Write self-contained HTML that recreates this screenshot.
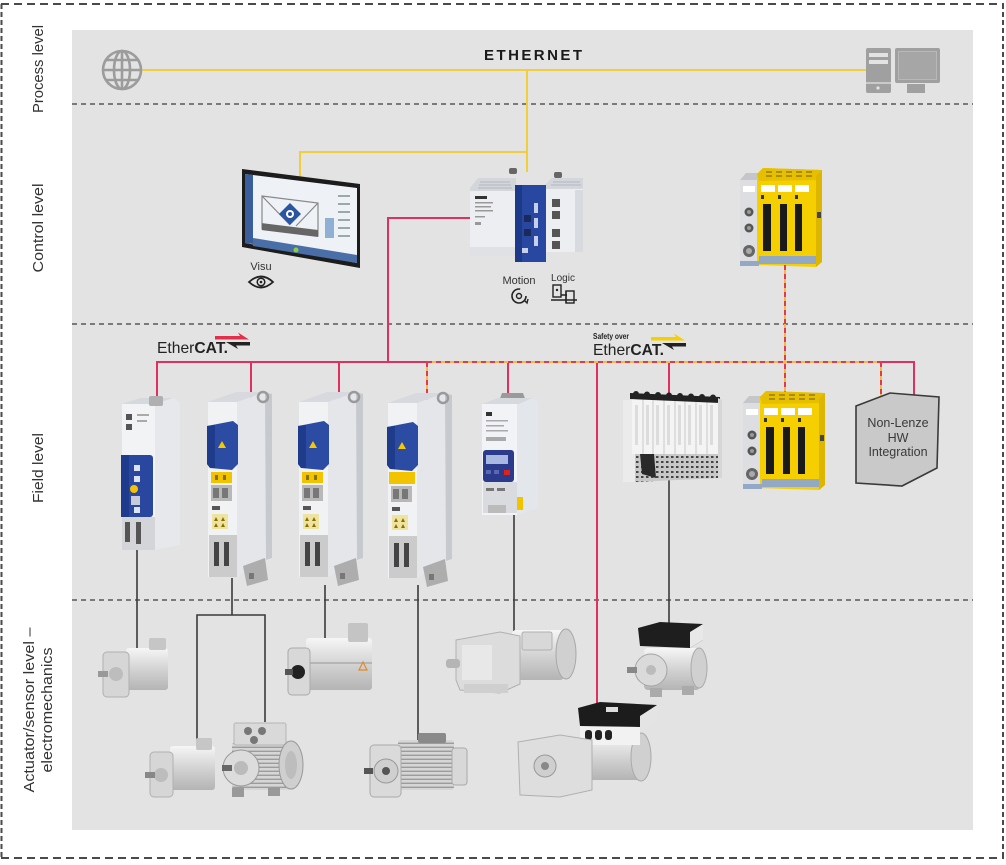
<!DOCTYPE html>
<html><head><meta charset="utf-8"><style>
html,body{margin:0;padding:0;background:#fff;}
svg{display:block;}
text{font-family:"Liberation Sans",sans-serif;}
</style></head><body>
<svg width="1006" height="865" viewBox="0 0 1006 865" xmlns="http://www.w3.org/2000/svg">
<defs>
 <linearGradient id="silv" x1="0" y1="0" x2="0" y2="1">
  <stop offset="0" stop-color="#f6f6f6"/><stop offset="0.55" stop-color="#d0d0d0"/><stop offset="1" stop-color="#b4b4b4"/>
 </linearGradient>
 <pattern id="fins" width="4" height="4" patternUnits="userSpaceOnUse"><rect width="4" height="4" fill="#d6d6d6"/><rect y="2.6" width="4" height="1.4" fill="#9c9c9c"/></pattern>
 <pattern id="term" width="5" height="5" patternUnits="userSpaceOnUse"><rect width="5" height="5" fill="#c8c8c8"/><rect x="1" y="1" width="2.5" height="2" fill="#444"/></pattern>
 <g id="drv">
  <polygon points="32,12 60,2 67,4 67,168 32,187" fill="#e4e6ea"/>
  <polygon points="60,2 67,4 67,168 61,170" fill="#c6c9ce"/>
  <rect x="3" y="12" width="29" height="175" fill="#f1f2f4"/>
  <polygon points="3,12 31,2 60,2 32,12" fill="#d7d9de"/>
  <circle cx="58" cy="7" r="5" fill="none" stroke="#9a9a9a" stroke-width="2.5"/>
  <path d="M2,36 L28,31 L33,35 L33,74 L27,80 L5,78 L2,74 Z" fill="#2c4ba3"/>
  <path d="M2,36 L10,35 L10,78 L5,78 L2,74 Z" fill="#1f3b8c"/>
  <polygon points="13,58 17,51 21,58" fill="#f5c800"/>
  <rect x="6" y="82" width="21" height="11" fill="#f2c400"/>
  <rect x="10" y="85" width="3" height="5" fill="#8a7000"/><rect x="18" y="85" width="3" height="5" fill="#8a7000"/>
  <rect x="6" y="95" width="21" height="16" fill="#b8b8b8"/>
  <rect x="8" y="98" width="6" height="10" fill="#777"/><rect x="17" y="98" width="6" height="10" fill="#777"/>
  <rect x="7" y="116" width="8" height="4" fill="#555"/>
  <rect x="7" y="124" width="16" height="15" fill="#eee3a0"/>
  <polygon points="9,131 11,127 13,131" fill="#8a7000"/><polygon points="16,131 18,127 20,131" fill="#8a7000"/>
  <polygon points="9,137 11,133 13,137" fill="#8a7000"/><polygon points="16,137 18,133 20,137" fill="#8a7000"/>
  <rect x="4" y="145" width="28" height="42" fill="#cbcbcb"/>
  <rect x="9" y="152" width="5" height="24" fill="#444"/><rect x="19" y="152" width="5" height="24" fill="#444"/>
  <polygon points="38,176 60,168 63,190 42,196" fill="#adadad"/>
  <rect x="44" y="183" width="5" height="6" fill="#777"/>
 </g>
 <g id="sc">
  <rect x="0" y="12" width="19" height="86" fill="#dcdee1"/>
  <polygon points="0,12 6,5 19,5 19,12" fill="#c4c6ca"/>
  <rect x="3" y="18" width="12" height="6" fill="#fff"/>
  <circle cx="9" cy="44" r="4.5" fill="#555"/><circle cx="9" cy="44" r="2" fill="#999"/>
  <circle cx="9" cy="60" r="4.5" fill="#555"/><circle cx="9" cy="60" r="2" fill="#999"/>
  <circle cx="9" cy="83" r="6" fill="#666"/><circle cx="9" cy="83" r="3" fill="#aaa"/>
  <polygon points="17,6 23,0 82,2 82,94 76,99 17,97" fill="#f5cf00"/>
  <polygon points="17,6 23,0 82,2 80,12 19,13" fill="#e6bf00"/>
  <path d="M26,4 h6 M36,4 h6 M46,4 h6 M56,4 h6 M66,4 h6 M26,8 h6 M36,8 h6 M46,8 h6 M56,8 h6 M66,8 h6" stroke="#8a6d00" stroke-width="1.2"/>
  <rect x="21" y="17" width="14" height="7" fill="#fff"/><rect x="38" y="17" width="14" height="7" fill="#fff"/><rect x="55" y="17" width="14" height="7" fill="#fff"/>
  <rect x="21" y="27" width="3" height="4" fill="#333"/><rect x="38" y="27" width="3" height="4" fill="#333"/><rect x="55" y="27" width="3" height="4" fill="#333"/>
  <rect x="23" y="36" width="8" height="47" fill="#1a1a1a"/>
  <rect x="40" y="36" width="7" height="47" fill="#1a1a1a"/>
  <rect x="55" y="36" width="7" height="47" fill="#1a1a1a"/>
  <polygon points="76,8 82,2 82,94 76,99" fill="#dcb600"/>
  <rect x="77" y="44" width="4" height="6" fill="#444"/>
  <rect x="19" y="88" width="57" height="8" fill="#93a8c4"/>
  <rect x="0" y="93" width="19" height="5" fill="#93a8c4"/>
 </g>
</defs>

<rect width="1006" height="865" fill="#fff"/>
<!-- outer dashed border -->
<g stroke="#4a4a4a" stroke-width="2">
 <line x1="1" y1="4" x2="1004" y2="4" stroke-dasharray="8 5"/>
 <line x1="1" y1="858" x2="1004" y2="858" stroke-dasharray="8 5"/>
 <line x1="1.5" y1="4" x2="1.5" y2="858" stroke-dasharray="5 3"/>
 <line x1="1003" y1="4" x2="1003" y2="858" stroke-dasharray="5 3"/>
</g>

<!-- panel -->
<rect x="72" y="30" width="901" height="800" fill="#e3e3e3"/>
<g stroke="#3c3c3c" stroke-width="1.2" stroke-dasharray="5 4">
 <line x1="72" y1="104" x2="973" y2="104"/>
 <line x1="72" y1="324" x2="973" y2="324"/>
 <line x1="72" y1="600" x2="973" y2="600"/>
</g>

<!-- level labels -->
<g fill="#333" font-size="15">
 <text transform="translate(43,69) rotate(-90)" text-anchor="middle" textLength="88" lengthAdjust="spacingAndGlyphs">Process level</text>
 <text transform="translate(43,228) rotate(-90)" text-anchor="middle" textLength="89" lengthAdjust="spacingAndGlyphs">Control level</text>
 <text transform="translate(43,468) rotate(-90)" text-anchor="middle" textLength="70" lengthAdjust="spacingAndGlyphs">Field level</text>
 <text transform="translate(34,710) rotate(-90)" text-anchor="middle" textLength="165" lengthAdjust="spacingAndGlyphs">Actuator/sensor level –</text>
 <text transform="translate(52,710) rotate(-90)" text-anchor="middle" textLength="125" lengthAdjust="spacingAndGlyphs">electromechanics</text>
</g>

<!-- Ethernet -->
<line x1="142" y1="70" x2="866" y2="70" stroke="#f2cf3a" stroke-width="2"/>
<text x="533" y="60" text-anchor="middle" font-size="15" font-weight="bold" fill="#1a1a1a" textLength="98" lengthAdjust="spacing">ETHERNET</text>
<g stroke="#9c9c9c" stroke-width="2.6" fill="none">
 <circle cx="122" cy="70" r="19"/>
 <ellipse cx="122" cy="70" rx="8" ry="19"/>
 <line x1="103" y1="70" x2="141" y2="70"/>
 <line x1="122" y1="51" x2="122" y2="89"/>
 <path d="M106,60 H138 M106,80 H138"/>
</g>
<g>
 <rect x="866" y="48" width="25" height="45" rx="2" fill="#a0a0a0"/>
 <rect x="869" y="53" width="19" height="4" fill="#e3e3e3"/>
 <rect x="869" y="60" width="19" height="4" fill="#e3e3e3"/>
 <line x1="866" y1="83" x2="891" y2="83" stroke="#e3e3e3" stroke-width="1.2"/>
 <circle cx="878" cy="88" r="1.6" fill="#e3e3e3"/>
 <rect x="895" y="48" width="45" height="35" rx="2" fill="#a0a0a0"/>
 <rect x="898.5" y="51.5" width="38" height="28" fill="#a6a6a6" stroke="#b8b8b8"/>
 <rect x="907" y="84" width="18" height="9" fill="#a0a0a0"/>
</g>

<!-- yellow links control -->
<path d="M527,70 V172 M527,152 H300 V177" stroke="#f2cf3a" stroke-width="2" fill="none"/>

<!-- tablet -->
<polygon points="242,169 360,184 360,268 242,247" fill="#1c1c1c"/>
<polygon points="245,174 357,188 357,263 245,243" fill="#eef1f5"/>
<polygon points="245,174 253,175 253,244 245,243" fill="#3a5d9c"/>
<polygon points="253,238 357,255 357,263 253,246" fill="#4a6fa8"/>
<g stroke="#888" stroke-width="1.2" fill="none">
 <polygon points="262,196 318,203 318,236 262,229"/>
 <line x1="262" y1="196" x2="290" y2="225"/><line x1="318" y1="203" x2="296" y2="226"/>
</g>
<rect x="262" y="224" width="56" height="7" fill="#666" transform="skewY(7) translate(0,-33)"/>
<polygon points="290,203 301,214 290,225 279,214" fill="#2a55a0"/>
<circle cx="290" cy="214" r="4" fill="#fff"/><circle cx="290" cy="214" r="2" fill="#2a55a0"/>
<rect x="325" y="218" width="9" height="20" fill="#8fb0d2"/>
<g fill="#9aa" ><rect x="338" y="195" width="12" height="2"/><rect x="338" y="203" width="12" height="2"/><rect x="338" y="211" width="12" height="2"/><rect x="338" y="219" width="12" height="2"/><rect x="338" y="227" width="12" height="2"/><rect x="338" y="235" width="12" height="2"/></g>
<circle cx="296" cy="250" r="2.5" fill="#8ccf3a"/>
<text x="261" y="270" text-anchor="middle" font-size="11" fill="#333">Visu</text>
<path d="M249,282 Q261,271 273,282 Q261,293 249,282 Z" stroke="#222" stroke-width="1.8" fill="none"/>
<circle cx="261" cy="282" r="3.8" stroke="#222" stroke-width="1.5" fill="none"/><circle cx="261" cy="282" r="1.3" fill="#222"/>

<!-- controller -->
<rect x="509" y="168" width="8" height="6" rx="2" fill="#666"/>
<rect x="554" y="172" width="8" height="6" rx="2" fill="#666"/>
<polygon points="470,188 478,178 516,178 516,192 470,192" fill="#d3d6db"/>
<path d="M480,182 h30 M479,185 h32 M478,188 h34" stroke="#aab" stroke-width="0.8"/>
<rect x="470" y="191" width="46" height="56" fill="#eceef1"/>
<rect x="470" y="247" width="46" height="9" fill="#dfe1e5"/>
<rect x="475" y="196" width="12" height="3" fill="#333"/>
<g fill="#999"><rect x="475" y="202" width="18" height="1.5"/><rect x="475" y="206" width="16" height="1.5"/><rect x="475" y="210" width="18" height="1.5"/><rect x="475" y="216" width="10" height="1.5"/><rect x="475" y="222" width="6" height="3"/></g>
<polygon points="545,185 552,178 583,178 583,190 545,190" fill="#d3d6db"/>
<path d="M553,182 h27 M551,185 h30" stroke="#aab" stroke-width="0.8"/>
<rect x="545" y="189" width="38" height="63" fill="#eceef1"/>
<rect x="575" y="190" width="8" height="62" fill="#d7dade"/>
<g fill="#555"><rect x="552" y="199" width="8" height="8"/><rect x="552" y="211" width="8" height="8"/><rect x="552" y="229" width="8" height="8"/><rect x="552" y="241" width="8" height="8"/></g>
<rect x="515" y="185" width="31" height="77" fill="#2747a0"/>
<rect x="515" y="185" width="7" height="77" fill="#1d3a8a"/>
<g fill="#1a2a5a"><rect x="524" y="215" width="7" height="7"/><rect x="524" y="229" width="7" height="7"/></g>
<g fill="#c8cfe8"><rect x="534" y="203" width="4" height="10"/><rect x="534" y="218" width="4" height="10"/><rect x="534" y="236" width="4" height="10"/><rect x="522" y="248" width="6" height="5"/></g>
<text x="519" y="284" text-anchor="middle" font-size="11" fill="#333">Motion</text>
<circle cx="519" cy="296" r="7" stroke="#222" stroke-width="1.6" fill="none" stroke-dasharray="34 10"/>
<circle cx="519" cy="296" r="2.5" stroke="#222" stroke-width="1.4" fill="none"/>
<path d="M524,300 l3,3 l1,-4" stroke="#222" stroke-width="1.4" fill="none"/>
<text x="563" y="281" text-anchor="middle" font-size="10" fill="#333">Logic</text>
<g stroke="#222" stroke-width="1.4" fill="none">
 <rect x="553" y="285" width="8" height="12"/>
 <path d="M561,295 H567 M551,300 H577 M566,291 v12"/>
 <rect x="566" y="291" width="8" height="12"/>
</g>
<circle cx="557" cy="290" r="1.2" fill="#222"/>

<!-- safety controller control level -->
<use href="#sc" transform="translate(740,168)"/>

<!-- red ethercat lines -->
<g stroke="#e03060" stroke-width="2" fill="none">
 <path d="M470,218 H388 V362"/>
 <path d="M157,402 V362 H427"/>
 <path d="M251,362 V398 M339,362 V398"/>
 <path d="M508,362 V395 M597,362 V708 M669,362 V397"/>
 <path d="M881,362 H914 V396"/>
</g>
<!-- safety dashed lines -->
<g fill="none" stroke-width="2">
 <path d="M427,362 H881 M427,362 V404 M785,265 V395 M881,362 V398" stroke="#f4b942"/>
 <path d="M427,362 H881 M427,362 V404 M785,265 V395 M881,362 V398" stroke="#e03a50" stroke-dasharray="5 4"/>
</g>

<!-- EtherCAT logos -->
<g>
 <text x="157" y="353" font-size="16" fill="#222" textLength="71" lengthAdjust="spacingAndGlyphs">Ether<tspan font-weight="bold">CAT.</tspan></text>
 <polygon points="215,336 240,336 238,332.5 249,339.5 215,339.5" fill="#e0304a"/>
 <polygon points="250,342 250,345.5 236,345.5 238,349 226,342" fill="#222"/>
</g>
<g>
 <text x="593" y="339" font-size="8" font-weight="bold" fill="#222" textLength="36" lengthAdjust="spacingAndGlyphs">Safety over</text>
 <text x="593" y="355" font-size="16" fill="#222" textLength="71" lengthAdjust="spacingAndGlyphs">Ether<tspan font-weight="bold">CAT.</tspan></text>
 <polygon points="651,337 676,337 674,333.5 685,340.5 651,340.5" fill="#f5cf00"/>
 <polygon points="686,343 686,346.5 672,346.5 674,350 662,343" fill="#222"/>
</g>

<!-- black motor cables -->
<g stroke="#3a3a3a" stroke-width="1.6" fill="none">
 <path d="M137,550 V650"/>
 <path d="M232,578 V615 M197,740 V615 H265 V722"/>
 <path d="M325,585 V650"/>
 <path d="M418,585 V740"/>
 <path d="M514,513 V632"/>
 <path d="M669,480 V625"/>
</g>

<!-- Drive 1 -->
<g>
 <polygon points="155,404 173,398 180,402 180,545 155,550" fill="#e6e8ec"/>
 <rect x="122" y="404" width="33" height="146" fill="#f2f3f5"/>
 <polygon points="122,404 140,398 173,398 155,404" fill="#d5d8dc"/>
 <rect x="149" y="396" width="14" height="10" rx="2" fill="#b0b0b0"/>
 <rect x="126" y="414" width="6" height="6" fill="#555"/><rect x="126" y="424" width="6" height="6" fill="#555"/>
 <rect x="137" y="414" width="12" height="2" fill="#aaa"/><rect x="137" y="420" width="10" height="2" fill="#aaa"/>
 <rect x="121" y="455" width="32" height="62" rx="3" fill="#2a47a0"/>
 <rect x="121" y="455" width="8" height="62" fill="#1e3a8c"/>
 <rect x="134" y="465" width="6" height="6" fill="#dde2f0"/><rect x="134" y="476" width="6" height="6" fill="#dde2f0"/>
 <circle cx="134" cy="489" r="4" fill="#f2c400"/>
 <rect x="131" y="496" width="9" height="9" fill="#c8ccd8"/><rect x="134" y="507" width="6" height="6" fill="#dde2f0"/>
 <rect x="122" y="517" width="33" height="33" fill="#d3d5d8"/>
 <rect x="125" y="522" width="5" height="20" fill="#555"/><rect x="136" y="522" width="5" height="22" fill="#555"/>
</g>
<!-- Drives 2-4 -->
<use href="#drv" transform="translate(205,390)"/>
<use href="#drv" transform="translate(296,390)"/>
<use href="#drv" transform="translate(385,391)"/>
<rect x="389" y="472" width="26" height="12" fill="#f2c400"/>

<!-- Drive 5 -->
<g>
 <polygon points="498,404 502,393 523,393 527,404" fill="#9a9a9a"/>
 <polygon points="517,404 533,398 538,402 538,508 517,515" fill="#e3e6eb"/>
 <rect x="482" y="404" width="35" height="111" fill="#f1f3f6"/>
 <polygon points="482,404 498,398 533,398 517,404" fill="#d6d9de"/>
 <rect x="486" y="412" width="6" height="4" fill="#333"/>
 <g fill="#aaa"><rect x="486" y="420" width="22" height="1.5"/><rect x="486" y="425" width="18" height="1.5"/><rect x="486" y="430" width="22" height="1.5"/><rect x="486" y="437" width="20" height="4"/></g>
 <rect x="483" y="450" width="31" height="32" rx="3" fill="#2c3a8c"/>
 <rect x="486" y="455" width="22" height="9" fill="#a9b8e0"/>
 <g fill="#5a68b0"><rect x="486" y="470" width="5" height="4"/><rect x="494" y="470" width="5" height="4"/></g>
 <rect x="504" y="470" width="6" height="5" fill="#d22"/>
 <rect x="483" y="482" width="34" height="31" fill="#d9dbde"/>
 <rect x="486" y="488" width="8" height="3" fill="#777"/><rect x="497" y="488" width="8" height="3" fill="#777"/>
 <rect x="517" y="497" width="6" height="13" fill="#f2c400"/>
 <rect x="488" y="505" width="18" height="8" fill="#bbb"/>
</g>

<!-- I/O module -->
<g>
 <rect x="623" y="400" width="12" height="82" fill="#ebebeb"/>
 <rect x="632" y="398" width="86" height="56" fill="#f4f4f4"/>
 <g stroke="#c9c9c9" stroke-width="1"><path d="M643,398 V454 M653,398 V454 M664,398 V454 M675,398 V454 M685,398 V454 M696,398 V454 M707,398 V454"/></g>
 <g fill="#dcdcdc"><rect x="635" y="405" width="3" height="40"/><rect x="646" y="405" width="3" height="40"/><rect x="656" y="405" width="3" height="40"/><rect x="667" y="405" width="3" height="40"/><rect x="678" y="405" width="3" height="40"/><rect x="688" y="405" width="3" height="40"/><rect x="699" y="405" width="3" height="40"/><rect x="710" y="405" width="3" height="40"/></g>
 <polygon points="630,393 720,397 720,403 630,399" fill="#222"/>
 <g fill="#222"><circle cx="636" cy="394" r="3"/><circle cx="647" cy="394.5" r="3"/><circle cx="658" cy="395" r="3"/><circle cx="669" cy="395.5" r="3"/><circle cx="680" cy="396" r="3"/><circle cx="691" cy="396.5" r="3"/><circle cx="702" cy="397" r="3"/><circle cx="713" cy="397.5" r="3"/></g>
 <polygon points="635,454 720,454 720,478 635,482" fill="url(#term)"/>
 <polygon points="640,454 654,454 656,478 642,474" fill="#2a2a2a"/>
 <polygon points="718,398 722,400 722,478 718,478" fill="#d6d6d6"/>
</g>

<!-- safety controller field level -->
<use href="#sc" transform="translate(743,391)"/>

<!-- Non-Lenze -->
<polygon points="856,406 890,393 939,397 937,468 902,486 856,483" fill="#c9c9c9" stroke="#3a3a3a" stroke-width="1.6"/>
<g font-size="12.5" fill="#3a3a3a" text-anchor="middle">
 <text x="898" y="427">Non-Lenze</text>
 <text x="898" y="442">HW</text>
 <text x="898" y="456">Integration</text>
</g>

<!-- Motors -->
<!-- motor 1 servo -->
<g>
 <rect x="126" y="648" width="42" height="42" rx="3" fill="url(#silv)"/>
 <rect x="149" y="638" width="17" height="12" rx="2" fill="#c6c6c6"/>
 <rect x="103" y="652" width="26" height="45" rx="4" fill="#d6d6d6" stroke="#b0b0b0"/>
 <circle cx="116" cy="674" r="7" fill="#bdbdbd"/>
 <rect x="98" y="671" width="10" height="6" fill="#999"/>
</g>
<!-- motor 2 large servo -->
<g>
 <rect x="306" y="638" width="66" height="52" rx="3" fill="url(#silv)"/>
 <rect x="306" y="662" width="66" height="2" fill="#b5b5b5"/>
 <rect x="348" y="623" width="20" height="19" rx="2" fill="#c4c4c4"/>
 <rect x="288" y="648" width="22" height="47" rx="4" fill="#d8d8d8" stroke="#aaa"/>
 <circle cx="298" cy="672" r="7" fill="#222"/>
 <rect x="285" y="669" width="8" height="6" fill="#555"/>
 <polygon points="359,670 363,662 367,670" fill="none" stroke="#e08a2a" stroke-width="1.2"/>
</g>
<!-- motor 3 small servo bottom -->
<g>
 <rect x="170" y="746" width="45" height="44" rx="3" fill="url(#silv)"/>
 <rect x="196" y="738" width="16" height="12" rx="2" fill="#c6c6c6"/>
 <rect x="150" y="752" width="23" height="45" rx="4" fill="#d6d6d6" stroke="#b0b0b0"/>
 <circle cx="161" cy="775" r="7" fill="#bdbdbd"/>
 <rect x="145" y="772" width="10" height="6" fill="#888"/>
</g>
<!-- AC motor -->
<g>
 <rect x="232" y="742" width="58" height="48" rx="4" fill="url(#fins)"/>
 <rect x="234" y="723" width="52" height="22" rx="2" fill="#d9d9d9" stroke="#b5b5b5"/>
 <circle cx="248" cy="731" r="4" fill="#777"/><circle cx="262" cy="731" r="4" fill="#777"/>
 <circle cx="254" cy="740" r="4" fill="#777"/>
 <ellipse cx="291" cy="765" rx="12" ry="24" fill="#cfcfcf" stroke="#999"/>
 <ellipse cx="291" cy="765" rx="6" ry="14" fill="#bdbdbd"/>
 <circle cx="241" cy="768" r="18" fill="#dcdcdc" stroke="#999"/>
 <circle cx="241" cy="768" r="7" fill="#bbb"/>
 <rect x="222" y="765" width="10" height="6" fill="#666"/>
 <rect x="232" y="788" width="12" height="9" fill="#999"/><rect x="268" y="788" width="12" height="8" fill="#999"/>
</g>
<!-- big servo -->
<g>
 <rect x="398" y="740" width="56" height="50" rx="3" fill="url(#fins)"/>
 <rect x="452" y="748" width="15" height="37" rx="3" fill="#d8d8d8" stroke="#aaa"/>
 <rect x="418" y="733" width="28" height="10" rx="2" fill="#8a8a8a"/>
 <rect x="370" y="745" width="31" height="52" rx="4" fill="#dadada" stroke="#aaa"/>
 <circle cx="386" cy="771" r="12" fill="#cfcfcf" stroke="#999"/>
 <circle cx="386" cy="771" r="4" fill="#555"/>
 <rect x="364" y="768" width="9" height="6" fill="#555"/>
</g>
<!-- gearmotor top -->
<g>
 <rect x="512" y="630" width="52" height="50" rx="4" fill="url(#silv)"/>
 <rect x="522" y="632" width="30" height="18" rx="2" fill="#d8d8d8" stroke="#b0b0b0"/>
 <ellipse cx="566" cy="654" rx="10" ry="25" fill="#d0d0d0" stroke="#a8a8a8"/>
 <polygon points="456,640 500,632 520,636 520,684 500,693 460,690 456,680" fill="#dcdcdc" stroke="#b0b0b0"/>
 <rect x="462" y="645" width="30" height="35" fill="#e8e8e8"/>
 <rect x="446" y="659" width="14" height="9" rx="3" fill="#b5b5b5"/>
 <rect x="464" y="684" width="44" height="9" fill="#cfcfcf"/>
</g>
<!-- motor with black top -->
<g>
 <rect x="644" y="648" width="56" height="42" rx="4" fill="url(#silv)"/>
 <ellipse cx="699" cy="668" rx="8" ry="20" fill="#d0d0d0" stroke="#aaa"/>
 <circle cx="651" cy="670" r="16" fill="#dadada" stroke="#a5a5a5"/>
 <circle cx="651" cy="670" r="5" fill="#bbb"/>
 <rect x="627" y="667" width="10" height="6" fill="#888"/>
 <polygon points="638,628 660,622 703,624 703,640 690,648 640,646" fill="#1e1e1e"/>
 <polygon points="690,632 703,624 703,640 690,648" fill="#e8e8e8"/>
 <rect x="650" y="688" width="12" height="9" fill="#aaa"/><rect x="682" y="686" width="12" height="9" fill="#aaa"/>
</g>
<!-- gearmotor with inverter -->
<g>
 <rect x="585" y="735" width="56" height="45" rx="4" fill="url(#silv)"/>
 <ellipse cx="641" cy="757" rx="10" ry="24" fill="#d0d0d0" stroke="#aaa"/>
 <polygon points="580,724 640,724 640,745 580,745" fill="#f2f2f2"/>
 <g fill="#222"><rect x="585" y="730" width="7" height="10" rx="3"/><rect x="595" y="730" width="7" height="10" rx="3"/><rect x="605" y="730" width="7" height="10" rx="3"/></g>
 <polygon points="578,708 600,702 657,705 657,716 640,727 580,726" fill="#1c1c1c"/>
 <polygon points="640,716 657,705 657,720 640,732" fill="#e4e4e4"/>
 <rect x="606" y="707" width="12" height="5" fill="#ddd"/>
 <polygon points="518,742 560,735 592,740 592,790 560,797 520,795" fill="#dedede" stroke="#b0b0b0"/>
 <circle cx="545" cy="766" r="11" fill="#cfcfcf" stroke="#999"/>
 <circle cx="545" cy="766" r="4" fill="#888"/>
</g>
</svg>
</body></html>
